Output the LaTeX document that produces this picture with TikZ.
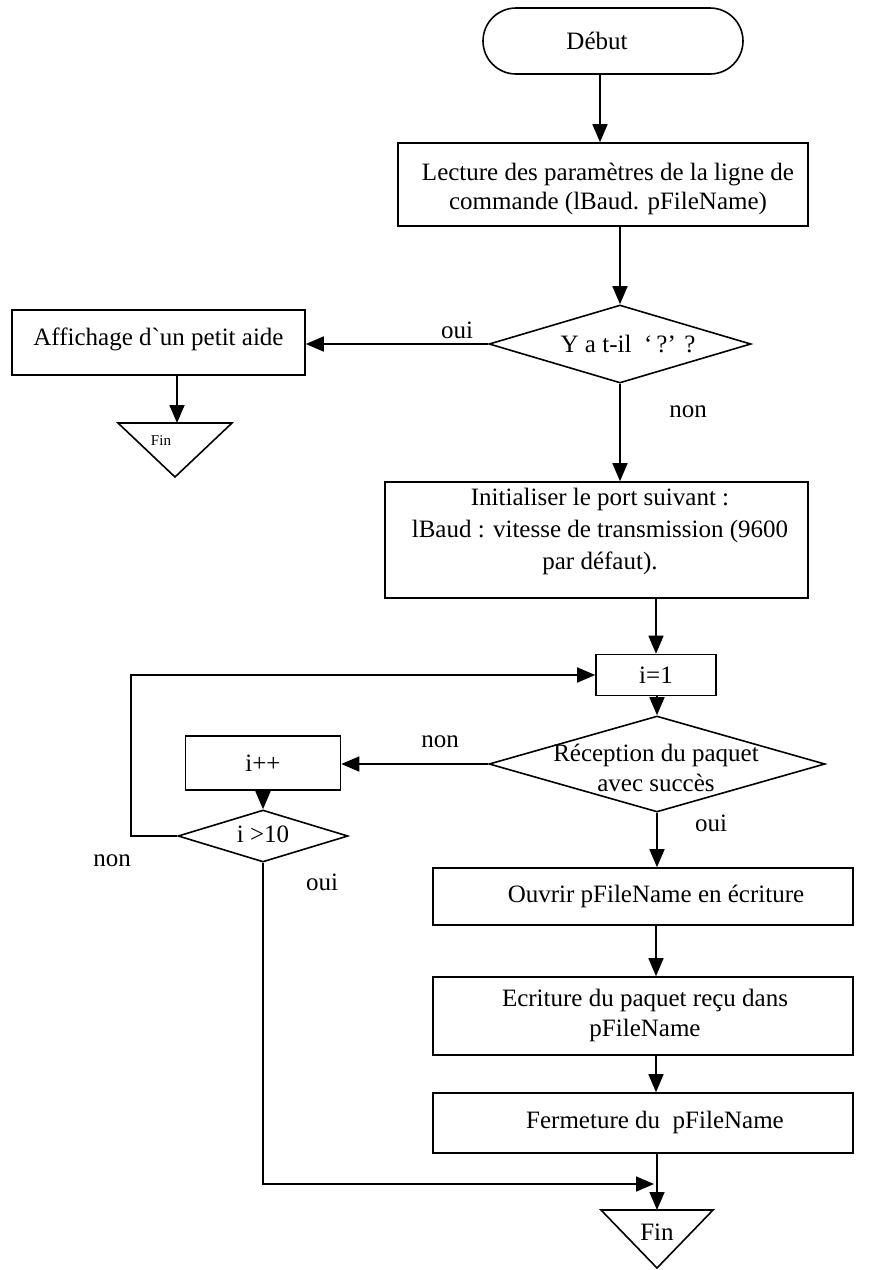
\documentclass[tikz,border=0pt]{standalone}
\usepackage{fontspec}
\setmainfont{Liberation Serif}
\usetikzlibrary{arrows.meta,shapes.geometric,shapes.misc}

\begin{document}
\begin{tikzpicture}[x=1pt,y=-1pt,
  every node/.style={font=\fontsize{25}{29}\selectfont},
  lw/.style={line width=1.6pt},
  arr/.style={lw,-{Triangle[length=18pt,width=15pt]}},
  box/.style={draw,lw,rectangle,inner sep=0pt,align=center},
  term/.style={draw,lw,rounded rectangle,inner sep=0pt},
  dia/.style={draw,lw,diamond,inner sep=0pt},
  txt/.style={align=center,inner sep=0pt},
  smallfin/.style={font=\fontsize{15}{17}\selectfont,inner sep=0pt}
]
\useasboundingbox (0,0) rectangle (873,1270);

% start terminal
\node[term,minimum width=260,minimum height=66] (start) at (613,41) {};
\node[txt] (startt) at (597,41) {Début};

% reading the command line
\node[box,minimum width=410,minimum height=83] (read) at (603,184.5) {};
\node[txt] (readt) at (608,189)
  {Lecture des paramètres de la ligne de\\commande (lBaud. pFileName)};

% help test
\node[dia,minimum width=262,minimum height=78] (ask) at (620,344) {};
\node[txt] (askt) at (628,344) {Y a t-il\ \ ‘\,?’ ?};

\node[box,minimum width=293,minimum height=65] (help) at (158.5,342.5) {};
\node[txt] (helpt) at (158.5,339) {Affichage d\textasciigrave un petit aide};

% small end marker
\draw[lw] (118,423) -- (232,423) -- (175,477) -- cycle;
\coordinate (fin1) at (177,423);
\node[smallfin] (fin1t) at (161,441) {Fin};

% port initialisation
\node[box,minimum width=423,minimum height=116] (init) at (596.5,540) {};
\node[txt,anchor=north,font=\fontsize{25}{32}\selectfont] (initt) at (600,488)
  {Initialiser le port suivant :\\lBaud : vitesse de transmission (9600\\par défaut).};

% counter and reception loop
\node[box,minimum width=120,minimum height=41] (ione) at (656,675) {i=1};
\node[dia,minimum width=336,minimum height=96] (recv) at (657,764) {};
\node[txt,font=\fontsize{25}{30}\selectfont] (recvt) at (656,768) {Réception du paquet\\avec succès};

\node[box,minimum width=155,minimum height=54] (incr) at (263,763) {i++};
\node[dia,minimum width=170,minimum height=52] (test) at (263,836) {};
\node[txt] (testt) at (263,834) {i >10};

% file writing
\node[box,minimum width=420,minimum height=57] (open) at (643,896.5) {};
\node[txt] (opent) at (656,896) {Ouvrir pFileName en écriture};
\node[box,minimum width=420,minimum height=78] (write) at (643,1016) {};
\node[txt,font=\fontsize{25}{30}\selectfont] (writet) at (645,1015)
  {Ecriture du paquet reçu dans\\pFileName};
\node[box,minimum width=420,minimum height=60] (close) at (643,1123) {};
\node[txt] (closet) at (655,1122) {Fermeture du\ \ pFileName};

% final end marker
\draw[lw] (601,1210) -- (713,1210) -- (657,1268) -- cycle;
\coordinate (fin2) at (657,1210);
\node[txt] (fin2t) at (657,1232) {Fin};

% helper columns
\coordinate (ca) at (600,0);
\coordinate (cb) at (656,0);
\coordinate (join) at (654,1184);

% connectors
\draw[arr] (start.south -| ca) -- (read.north -| ca);
\draw[arr] (read.south -| ask.north) -- (ask.north);
\draw[arr] (ask.west) -- (ask.west -| help.east);
\draw[arr] (help.south -| fin1) -- (fin1);
\draw[arr] (ask.south) -- (init.north -| ask.south);
\draw[arr] (init.south -| cb) -- (ione.north);
\draw[arr] (ione.south -| recv.north) -- (recv.north);
\draw[arr] (recv.west) -- (recv.west -| incr.east);
\draw[arr] (incr.south) -- (test.north);
\draw[arr] (test.west) -- ++(-46,0) |- (ione.west);
\draw[arr] (recv.south) -- (open.north -| recv.south);
\draw[arr] (open.south -| cb) -- (write.north -| cb);
\draw[arr] (write.south -| cb) -- (close.north -| cb);
\draw[arr] (close.south -| fin2) -- (fin2);
\draw[arr] (test.south) |- (join);

% branch labels
\node (l1) at (457,330) {oui};
\node (l2) at (688,412) {non};
\node (l3) at (440,742) {non};
\node (l4) at (711,823) {oui};
\node (l5) at (112,861) {non};
\node (l6) at (322,882) {oui};
\end{tikzpicture}
\end{document}
